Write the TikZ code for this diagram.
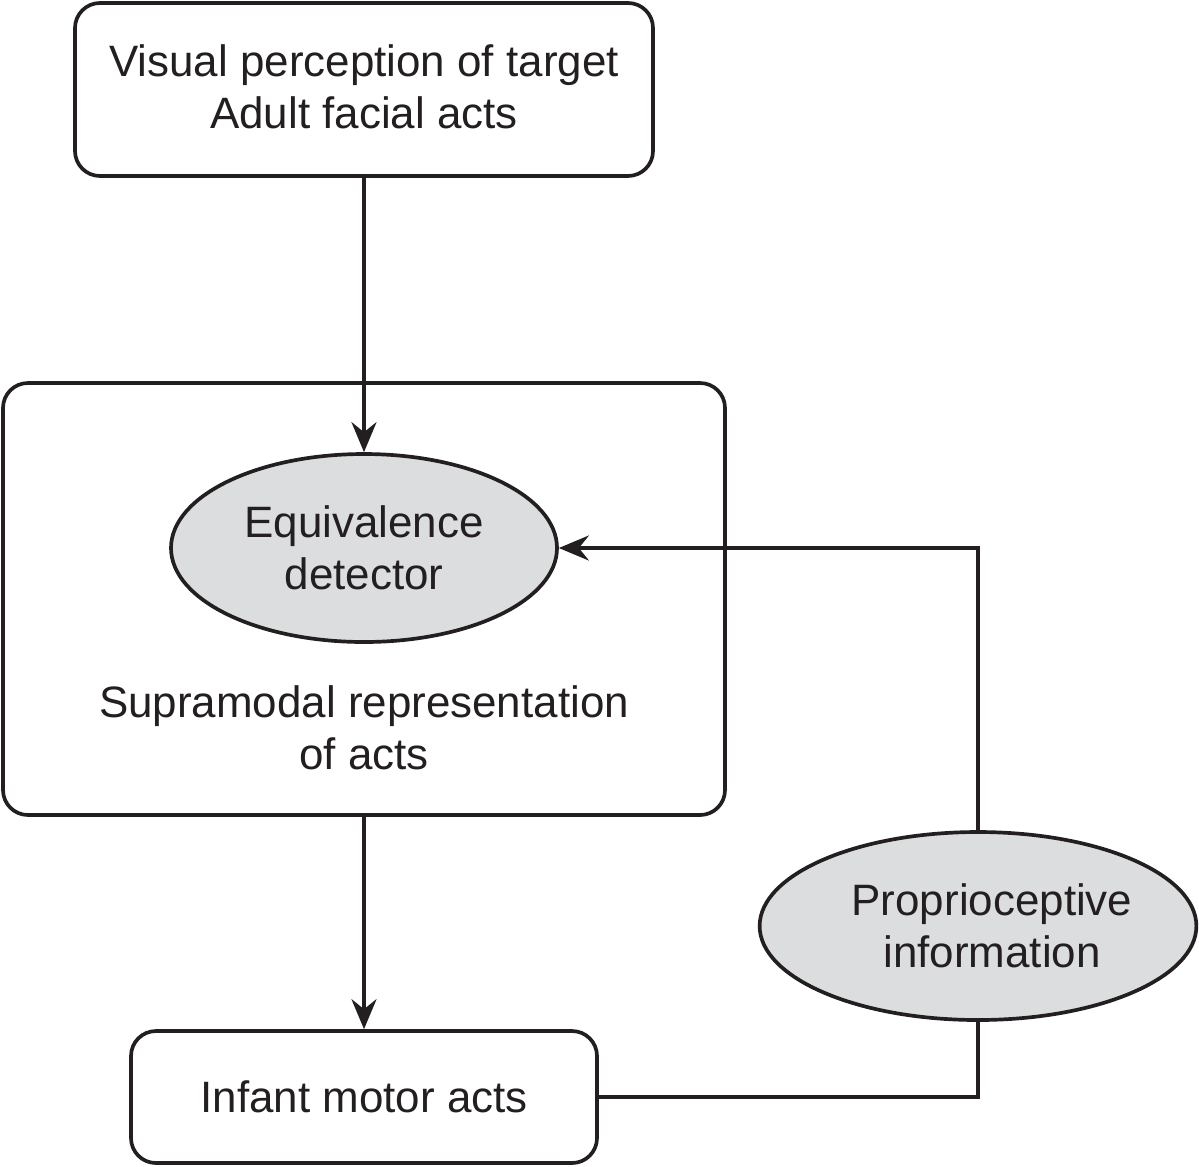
\documentclass[tikz,border=0pt]{standalone}
\usepackage{fontspec}
\setmainfont{Liberation Sans}
\usetikzlibrary{positioning, shapes.geometric, arrows.meta}
\definecolor{InkBlack}{RGB}{35, 31, 32}
\definecolor{BlobGray}{RGB}{220, 221, 223}

\begin{document}
\begin{tikzpicture}[
    line width=1.05pt, draw=InkBlack, text=InkBlack,
    font=\fontsize{12.5}{14.8}\selectfont,
    box/.style={draw, rounded corners=0.25cm, align=center, inner sep=0pt},
    blob/.style={draw, ellipse, fill=BlobGray, align=center, inner sep=0pt},
    flow/.style={-{Stealth[length=3mm, width=2.5mm, inset=1mm]}}
  ]
    \useasboundingbox (0,0) rectangle (11.99,-11.66);

    % Boxes
    \node[box, minimum width=5.78cm, minimum height=1.73cm] (visual) at (3.64,-0.895)
      {\raisebox{0.05cm}{Visual perception of target}\\\raisebox{0.05cm}{Adult facial acts}};
    \node[box, minimum width=7.22cm, minimum height=4.32cm] (supra) at (3.64,-5.99) {};
    \node[align=center] (supratext) at (3.64,-7.28) {Supramodal representation\\of acts};
    \node[box, minimum width=4.66cm, minimum height=1.32cm] (infant) at (3.64,-10.97)
      {\raisebox{-0.04cm}{Infant motor acts}};

    % Ellipses
    \node[blob, minimum width=3.86cm, minimum height=1.88cm] (equiv) at (3.64,-5.48)
      {\raisebox{-0.05cm}{Equivalence}\\\raisebox{-0.05cm}{detector}};
    \node[blob, minimum width=4.36cm, minimum height=1.88cm] (proprio) at (9.78,-9.26)
      {\hspace*{0.28cm}Proprioceptive\\\hspace*{0.28cm}information};

    % Connectors
    \draw[flow] (visual.south) -- (equiv.north);
    \draw[flow] (supra.south) -- (infant.north);
    \draw (infant.east) -| (proprio.south);
    \draw[flow] (proprio.north) |- (equiv.east);
\end{tikzpicture}
\end{document}
